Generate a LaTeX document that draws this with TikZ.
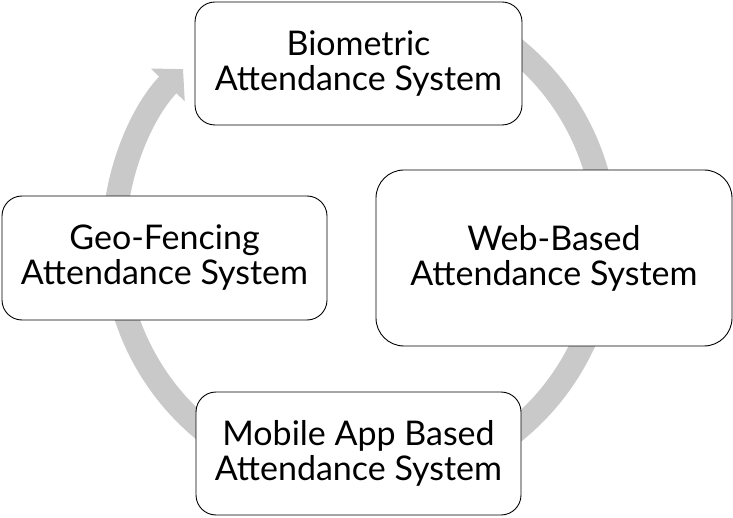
\documentclass[tikz,border=0pt]{standalone}
\usepackage{fontspec}
\setmainfont{Lato}
\definecolor{ringgray}{RGB}{201, 201, 201}
\usepackage{tikz}
\usetikzlibrary{arrows.meta, positioning}

\tikzset{
  stagebox/.style={draw=black, line width=0.9pt, fill=white, rounded corners=20pt,
    align=center, inner sep=0pt, font=\fontsize{34}{35}\selectfont},
}

\begin{document}
\begin{tikzpicture}[x=1pt, y=1pt]
  \useasboundingbox (0, 0) rectangle (733, 517);

  % Cycle ring behind the boxes
  \coordinate (hub) at (360, 277);
  \draw[ringgray, line width=24pt, -{Triangle[length=22pt, width=46pt]}]
    (hub) ++(55:246) arc[start angle=55, end angle=-224, radius=246];

  % Stages
  \node[stagebox, minimum width=327pt, minimum height=123pt] (bio) at (358.5, 453.5)
    {Biometric\\Attendance System};
  \node[stagebox, minimum width=356pt, minimum height=176pt, rounded corners=28pt] (web) at (554, 259)
    {Web-Based\\Attendance System};
  \node[stagebox, minimum width=325pt, minimum height=123pt] (mobile) at (358.5, 63.5)
    {Mobile App Based\\Attendance System};
  \node[stagebox, minimum width=325pt, minimum height=124pt] (geo) at (164.5, 259)
    {Geo-Fencing\\Attendance System};
\end{tikzpicture}
\end{document}
